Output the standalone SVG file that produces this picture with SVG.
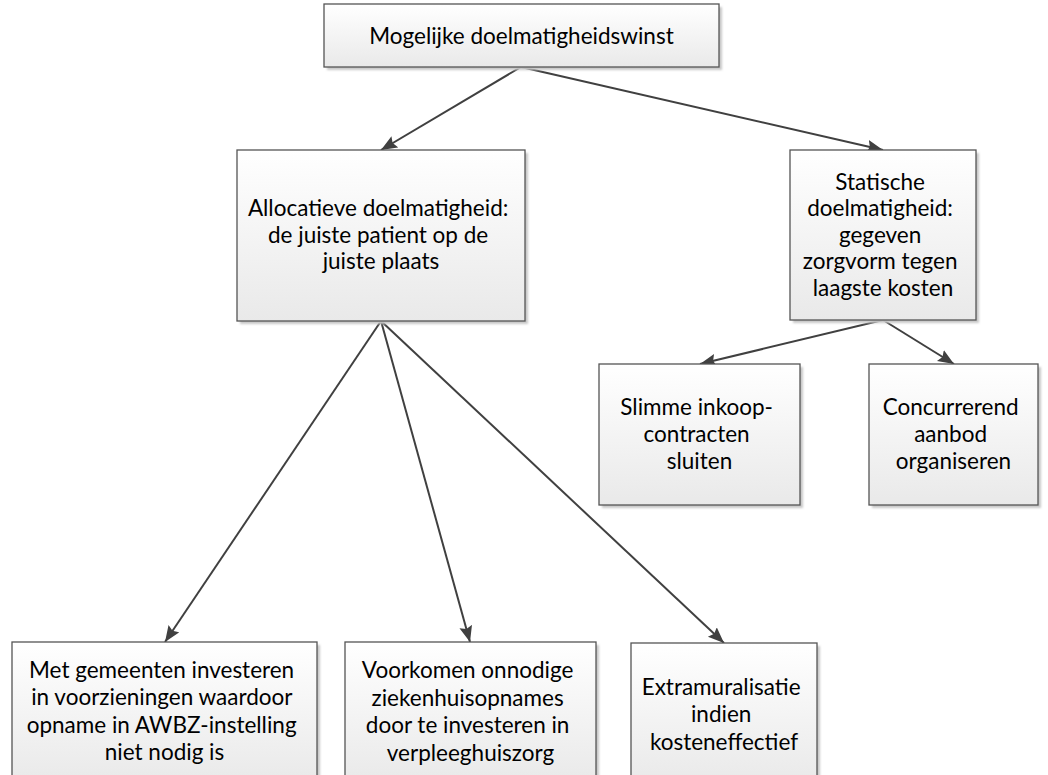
<svg xmlns="http://www.w3.org/2000/svg" width="1048" height="775" viewBox="0 0 1048 775">
  <defs>
    <linearGradient id="boxFill" x1="0" y1="0" x2="0" y2="1">
      <stop offset="0" stop-color="#ffffff"/>
      <stop offset="1" stop-color="#e9e9e9"/>
    </linearGradient>
    <filter id="soft" x="-5%" y="-5%" width="110%" height="110%">
      <feGaussianBlur stdDeviation="1"/>
    </filter>
    <marker id="arrow" markerUnits="userSpaceOnUse" markerWidth="20" markerHeight="16" refX="16" refY="6.5" orient="auto">
      <path d="M0,0 L16,6.5 L0,13 L2.5,6.5 z" fill="#404040"/>
    </marker>
    <style>
      .shadow { fill: #c8c8c8; filter: url(#soft); }
      .box { fill: url(#boxFill); stroke: #555555; stroke-width: 1.3; }
      .label { font-family: Lato, "Liberation Sans", sans-serif; font-size: 22.5px; fill: #000000; text-anchor: middle; }
      .link { fill: none; stroke: #404040; stroke-width: 2; marker-end: url(#arrow); }
    </style>
  </defs>

  <rect width="1048" height="775" fill="#ffffff"/>

  <g id="connectors">
    <line class="link" x1="521" y1="67" x2="381" y2="150"/>
    <line class="link" x1="521" y1="67" x2="883" y2="150"/>
    <line class="link" x1="883" y1="320" x2="700" y2="364"/>
    <line class="link" x1="883" y1="320" x2="954" y2="364"/>
    <line class="link" x1="381" y1="321" x2="165" y2="642"/>
    <line class="link" x1="381" y1="321" x2="470" y2="642"/>
    <line class="link" x1="381" y1="321" x2="724" y2="643"/>
  </g>

  <g id="node-root">
    <rect class="shadow" x="327" y="7" width="395" height="63"/>
    <rect class="box" x="324" y="4" width="395" height="63"/>
    <text class="label" x="521.5" y="43.5">Mogelijke doelmatigheidswinst</text>
  </g>

  <g id="node-allocatief">
    <rect class="shadow" x="240" y="153" width="288" height="171"/>
    <rect class="box" x="237" y="150" width="288" height="171"/>
    <text class="label" x="381" y="216">
      <tspan x="381">Allocatieve doelmatigheid:</tspan>
      <tspan x="381" dy="26.5">de juiste patient op de</tspan>
      <tspan x="381" dy="26.5">juiste plaats</tspan>
    </text>
  </g>

  <g id="node-statisch">
    <rect class="shadow" x="793" y="153" width="186" height="170"/>
    <rect class="box" x="790" y="150" width="186" height="170"/>
    <text class="label" x="883" y="189.5">
      <tspan x="883">Statische</tspan>
      <tspan x="883" dy="26.5">doelmatigheid:</tspan>
      <tspan x="883" dy="26.5">gegeven</tspan>
      <tspan x="883" dy="26.5">zorgvorm tegen</tspan>
      <tspan x="883" dy="26.5">laagste kosten</tspan>
    </text>
  </g>

  <g id="node-inkoop">
    <rect class="shadow" x="602" y="367" width="201" height="141"/>
    <rect class="box" x="599" y="364" width="201" height="141"/>
    <text class="label" x="699.5" y="414.5">
      <tspan x="699.5">Slimme inkoop-</tspan>
      <tspan x="699.5" dy="27">contracten</tspan>
      <tspan x="699.5" dy="27">sluiten</tspan>
    </text>
  </g>

  <g id="node-aanbod">
    <rect class="shadow" x="872" y="367" width="169" height="141"/>
    <rect class="box" x="869" y="364" width="169" height="141"/>
    <text class="label" x="953.5" y="414.5">
      <tspan x="953.5">Concurrerend</tspan>
      <tspan x="953.5" dy="27">aanbod</tspan>
      <tspan x="953.5" dy="27">organiseren</tspan>
    </text>
  </g>

  <g id="node-gemeenten">
    <rect class="shadow" x="15" y="645" width="305" height="142"/>
    <rect class="box" x="12" y="642" width="305" height="142"/>
    <text class="label" x="164.5" y="677.5">
      <tspan x="164.5">Met gemeenten investeren</tspan>
      <tspan x="164.5" dy="27.5">in voorzieningen waardoor</tspan>
      <tspan x="164.5" dy="27.5">opname in AWBZ-instelling</tspan>
      <tspan x="164.5" dy="27.5">niet nodig is</tspan>
    </text>
  </g>

  <g id="node-ziekenhuis">
    <rect class="shadow" x="348" y="645" width="251" height="142"/>
    <rect class="box" x="345" y="642" width="251" height="142"/>
    <text class="label" x="470.5" y="678">
      <tspan x="470.5">Voorkomen onnodige</tspan>
      <tspan x="470.5" dy="27.5">ziekenhuisopnames</tspan>
      <tspan x="470.5" dy="27.5">door te investeren in</tspan>
      <tspan x="470.5" dy="27.5">verpleeghuiszorg</tspan>
    </text>
  </g>

  <g id="node-extramuraal">
    <rect class="shadow" x="634" y="646" width="186" height="142"/>
    <rect class="box" x="631" y="643" width="186" height="142"/>
    <text class="label" x="724" y="694.5">
      <tspan x="724">Extramuralisatie</tspan>
      <tspan x="724" dy="27.5">indien</tspan>
      <tspan x="724" dy="27.5">kosteneffectief</tspan>
    </text>
  </g>
</svg>
